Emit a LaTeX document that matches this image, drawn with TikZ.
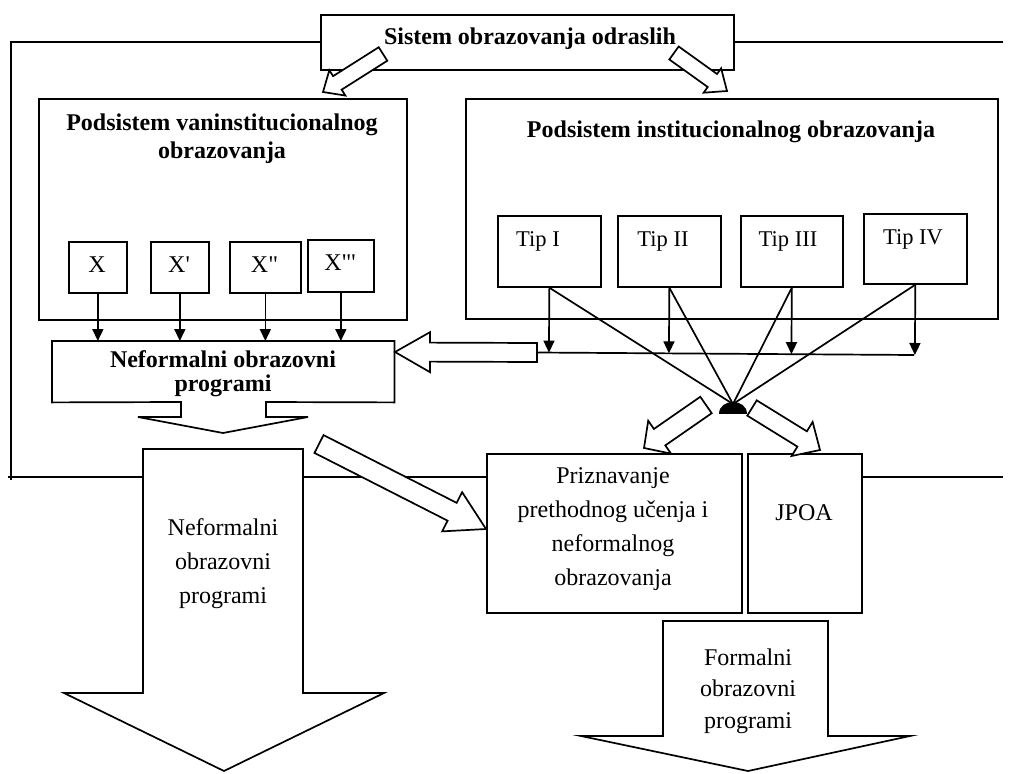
\documentclass[tikz,border=0pt]{standalone}
\usepackage{fontspec}
\setmainfont{Liberation Serif}[Ligatures=TeXOff]
\usetikzlibrary{arrows.meta,calc}
\newcommand{\blockarr}[5]{%
  \coordinate (ba-h) at ($(#2)!#5!(#1)$);
  \draw[barr] ($(#1)!#3!90:(#2)$) -- ($(ba-h)!#3!90:(#2)$) -- ($(ba-h)!#4!90:(#2)$)
    -- (#2) -- ($(ba-h)!#4!-90:(#2)$) -- ($(ba-h)!#3!-90:(#2)$) -- ($(#1)!#3!-90:(#2)$) -- cycle;
}
\begin{document}
\begin{tikzpicture}[x=1pt,y=-1pt,
  ln/.style={line width=1.7pt},
  bx/.style={draw, line width=1.7pt, rectangle, inner sep=0pt, anchor=north west},
  txt/.style={anchor=base, inner sep=0pt, font=\fontsize{24}{28}\selectfont},
  btxt/.style={anchor=base, inner sep=0pt, font=\fontsize{24}{28}\selectfont\bfseries},
  ttxt/.style={anchor=base, inner sep=0pt, font=\fontsize{22.5}{26}\selectfont},
  arr/.style={line width=1.7pt, -{Triangle[length=12pt,width=11pt]}},
  barr/.style={draw, line width=1.7pt, fill=white, line join=miter},
  bigarr/.style={draw, line width=1.7pt, fill=white, line join=miter},
]
\useasboundingbox (0,0) rectangle (1011,773);

% ---- frame coordinates
\coordinate (fa) at (11,42);
\coordinate (fb) at (11,480);
\coordinate (fc) at (8,477);
\coordinate (fd) at (143,477);
\coordinate (fe) at (303,477);
\coordinate (fh) at (1003,477);
\coordinate (fi) at (1003,42);

% ---- boxes
\node[bx, minimum width=413pt, minimum height=55pt] (sys) at (320,14) {};
\node[btxt] (syst) at (530,45) {Sistem obrazovanja odraslih};

\node[bx, minimum width=368pt, minimum height=221pt] (vanb) at (38,98) {};
\node[btxt] (vant1) at (222,131) {Podsistem vaninstitucionalnog};
\node[btxt] (vant2) at (222,158) {obrazovanja};

\node[bx, minimum width=532pt, minimum height=220pt] (instb) at (465,98) {};
\node[btxt] (instt) at (731,137) {Podsistem institucionalnog obrazovanja};

\node[bx, minimum width=58pt, minimum height=51pt] (x1) at (68,241) {};
\node[bx, minimum width=58pt, minimum height=51pt] (x2) at (150,241) {};
\node[bx, minimum width=71pt, minimum height=51pt] (x3) at (229,241) {};
\node[bx, minimum width=66pt, minimum height=52pt] (x4) at (307,239) {};
\node[txt] (x1t) at (97,272) {X};
\node[txt] (x2t) at (179,272) {X'};
\node[txt] (x3t) at (264.5,272) {X"};
\node[txt] (x4t) at (340,270) {X"'};

\node[bx, minimum width=103pt, minimum height=71pt] (t1) at (497,215) {};
\node[bx, minimum width=103pt, minimum height=71pt] (t2) at (617,215) {};
\node[bx, minimum width=102pt, minimum height=71pt] (t3) at (740,215) {};
\node[bx, minimum width=103pt, minimum height=70pt] (t4) at (863,213) {};
\node[ttxt] (t1t) at (538,246) {Tip I};
\node[ttxt] (t2t) at (663,246) {Tip II};
\node[ttxt] (t3t) at (788,246) {Tip III};
\node[ttxt] (t4t) at (913,244) {Tip IV};

% Neformalni box with notch arrow
\node[minimum width=342pt, minimum height=61pt, inner sep=0pt, anchor=north west] (nef) at (52,341) {};
\draw[bigarr] (nef.south west) -- (nef.north west) -- (nef.north east) -- (nef.south east)
  -- (266,402) -- (266,417) -- (308,417) -- (223,433) -- (138,417) -- (181,417) -- (181,402) -- cycle;
\node[btxt] (neft1) at (223,367) {Neformalni obrazovni};
\node[btxt] (neft2) at (223,391) {programi};
\coordinate (nefin) at (395,352);

% Priznavanje and JPOA
\node[bx, minimum width=255pt, minimum height=159pt] (priz) at (486,453) {};
\node[bx, minimum width=114pt, minimum height=159pt] (jpoa) at (747,453) {};
\node[txt] (prt1) at (613,483.5) {Priznavanje};
\node[txt] (prt2) at (613,517.5) {prethodnog učenja i};
\node[txt] (prt3) at (613,551.5) {neformalnog};
\node[txt] (prt4) at (613,585.5) {obrazovanja};
\node[txt] (jpt) at (804,520) {JPOA};

% ---- frame lines
\draw[ln] (sys.west |- fa) -- (fa) -- (fb);
\draw[ln] (sys.east |- fi) -- (fi);
\draw[ln] (fc) -- (fd);
\draw[ln] (fe) -- (priz.west |- fe);
\draw[ln] (jpoa.east |- fh) -- (fh);

% ---- X arrows
\foreach \n in {x1,x2,x3,x4}
  \draw[arr] (\n.south) -- (\n.south |- nef.north);

% ---- Tip arrows to horizontal line
\coordinate (hl) at (537,352.5);
\coordinate (hr) at (914,355);
\draw[ln] (hl) -- (hr);
\foreach \n in {t1,t2,t3,t4}
  \draw[arr] (\n.south) -- ($(hl)!(\n.south)!(hr)$);

% ---- diagonals to hub
\coordinate (hub) at (733,404);
\foreach \n in {t1,t2,t3,t4}
  \draw[ln] (\n.south) -- (hub);
\fill (719,414) .. controls (719,398) and (747,398) .. (747,414) -- cycle;

% ---- big down arrows
\draw[bigarr] (143,449) -- (303,449) -- (303,693) -- (384,693) -- (224,771) -- (64,693) -- (143,693) -- cycle;
\node[txt] (bl1) at (223,535) {Neformalni};
\node[txt] (bl2) at (223,569) {obrazovni};
\node[txt] (bl3) at (223,603) {programi};

\draw[bigarr] (663,621) -- (828,621) -- (828,736) -- (910,736) -- (748,771) -- (581,736) -- (663,736) -- cycle;
\node[txt] (fr1) at (748,665) {Formalni};
\node[txt] (fr2) at (748,696.5) {obrazovni};
\node[txt] (fr3) at (748,728) {programi};

% ---- block arrows
\coordinate (a1s) at (383,54);   \coordinate (a1e) at (323,92);
\coordinate (a2s) at (674,53);   \coordinate (a2e) at (727,91);
\coordinate (a3s) at (706,405);  \coordinate (a3e) at (644,448);
\coordinate (a4s) at (752,408);  \coordinate (a4e) at (820,450);
\coordinate (a5s) at (319,444);  \coordinate (a5e) at (486,529);
\blockarr{a1s}{a1e}{8pt}{15pt}{17pt}
\blockarr{a2s}{a2e}{8pt}{15pt}{18pt}
\blockarr{a3s}{a3e}{10pt}{20pt}{19pt}
\blockarr{a4s}{a4e}{9pt}{20pt}{21pt}
\blockarr{a5s}{a5e}{10pt}{22pt}{38pt}
\blockarr{hl}{nefin}{9.5pt}{20pt}{35pt}
\end{tikzpicture}
\end{document}
